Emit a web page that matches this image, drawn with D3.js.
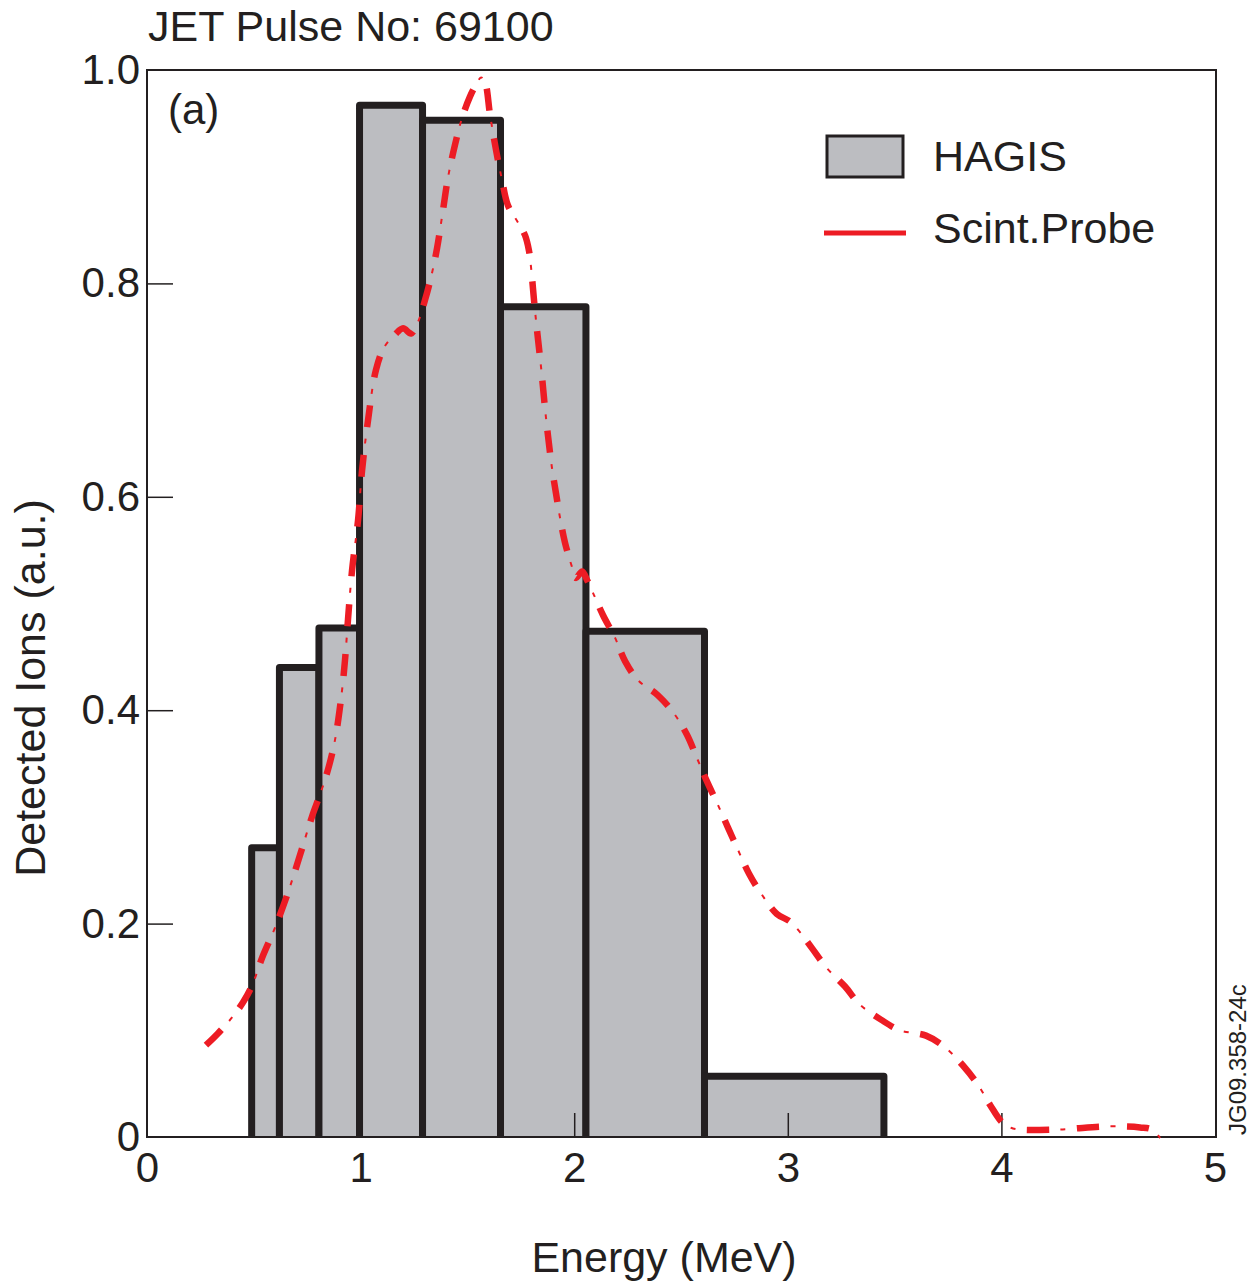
<!DOCTYPE html>
<html><head><meta charset="utf-8">
<script src="https://cdn.jsdelivr.net/npm/d3@7"></script>
<style>
html,body{margin:0;padding:0;background:#fff;}
text{font-family:"Liberation Sans",Arial,Helvetica,sans-serif;fill:#231f20;}
</style></head>
<body>
<script>
// ---- data ----
const binEdges = [0.49, 0.62, 0.805, 0.995, 1.29, 1.655, 2.055, 2.61, 3.45];
const hagisValues = [0.271, 0.440, 0.477, 0.967, 0.953, 0.778, 0.474, 0.057];
const probeEnergy = [0.276,0.332,0.398,0.449,0.492,0.539,0.599,0.660,0.716,0.772,0.810,0.847,0.880,0.908,0.927,0.941,0.960,0.988,1.007,1.035,1.072,1.110,1.161,1.199,1.236,1.269,1.301,1.330,1.358,1.386,1.409,1.442,1.475,1.512,1.540,1.564,1.582,1.606,1.634,1.662,1.690,1.737,1.770,1.788,1.798,1.812,1.826,1.845,1.868,1.896,1.915,1.934,1.957,1.990,2.008,2.037,2.060,2.088,2.135,2.191,2.238,2.299,2.392,2.467,2.528,2.575,2.622,2.669,2.720,2.767,2.818,2.879,2.949,3.010,3.057,3.113,3.184,3.268,3.338,3.436,3.525,3.647,3.736,3.820,3.890,3.947,4.007,4.054,4.260,4.494,4.649,4.705,4.743];
const probeCounts = [0.086,0.097,0.112,0.126,0.142,0.168,0.196,0.229,0.264,0.300,0.321,0.344,0.372,0.410,0.447,0.485,0.531,0.578,0.625,0.672,0.719,0.740,0.752,0.758,0.753,0.764,0.784,0.806,0.833,0.869,0.899,0.930,0.955,0.975,0.986,0.993,0.989,0.958,0.925,0.897,0.873,0.857,0.845,0.831,0.815,0.784,0.756,0.721,0.674,0.627,0.603,0.580,0.557,0.534,0.524,0.530,0.522,0.510,0.489,0.468,0.446,0.428,0.414,0.397,0.377,0.355,0.333,0.313,0.290,0.269,0.247,0.227,0.209,0.202,0.192,0.177,0.158,0.141,0.124,0.110,0.100,0.095,0.084,0.067,0.049,0.030,0.013,0.008,0.007,0.010,0.009,0.007,-0.001];
const xTicks = [0, 1, 2, 3, 4, 5];
const yTicks = [0, 0.2, 0.4, 0.6, 0.8, 1.0];
const seriesNames = ["HAGIS", "Scint.Probe"];
const title = "JET Pulse No: 69100";
const xLabel = "Energy (MeV)";
const yLabel = "Detected Ions (a.u.)";

// ---- layout ----
const W = 1254, H = 1282;
const L = 147, R = 1215, T = 70, B = 1137;
const ink = "#231f20", red = "#ed1c24", gray = "#bcbdc1";
const FS = 43;

const svg = d3.select("body").append("svg").attr("width", W).attr("height", H);
const x = d3.scaleLinear().domain([0, 5]).range([L, R]);
const y = d3.scaleLinear().domain([0, 1]).range([B, T]);

// bars (open at bottom)
const bars = hagisValues.map((v, i) => ({x0: binEdges[i], x1: binEdges[i + 1], v}));
svg.append("g").selectAll("path").data(bars).join("path")
  .attr("d", d => `M${x(d.x0)},${y(0)}L${x(d.x0)},${y(d.v)}L${x(d.x1)},${y(d.v)}L${x(d.x1)},${y(0)}`)
  .attr("fill", gray).attr("stroke", ink).attr("stroke-width", 7)
  .attr("stroke-linejoin", "round");

// axes (inward ticks)
const yAxis = d3.axisLeft(y).tickValues(yTicks).tickSizeInner(-26).tickSizeOuter(0).tickPadding(7)
  .tickFormat(d => d === 0 ? "0" : d3.format(".1f")(d));
const gy = svg.append("g").attr("transform", `translate(${L},0)`).call(yAxis);
const xAxis = d3.axisBottom(x).tickValues(xTicks).tickSizeInner(-24).tickSizeOuter(0).tickPadding(15)
  .tickFormat(d3.format("d"));
const gx = svg.append("g").attr("transform", `translate(0,${B})`).call(xAxis);
[gx, gy].forEach(g => {
  g.select(".domain").remove();
  g.selectAll(".tick line").attr("stroke", ink).attr("stroke-width", 1.5);
  g.selectAll(".tick text").attr("font-size", 42).attr("fill", ink)
    .style("font-family", '"Liberation Sans", Arial, sans-serif');
});
gy.selectAll(".tick").filter(d => d === 0 || d === 1).select("line").remove();
gx.selectAll(".tick").filter(d => d === 0 || d === 5 || d === 1).select("line").remove();

// frame
svg.append("rect").attr("x", L).attr("y", T).attr("width", R - L + 1).attr("height", B - T)
  .attr("fill", "none").attr("stroke", ink).attr("stroke-width", 2);

// probe curve: thick dashes + thin dashes (dash-dot)
const line = d3.line().x((d, i) => x(probeEnergy[i])).y((d, i) => y(probeCounts[i]))
  .curve(d3.curveCatmullRom.alpha(0.5));
const pd = line(probeCounts);
svg.append("path").attr("d", pd).attr("fill", "none").attr("stroke", red)
  .attr("stroke-width", 6.5).attr("stroke-dasharray", "22 28");
svg.append("path").attr("d", pd).attr("fill", "none").attr("stroke", red)
  .attr("stroke-width", 2).attr("stroke-dasharray", "0 33.5 5 11.5");

// legend
svg.append("rect").attr("x", 827).attr("y", 136).attr("width", 76).attr("height", 41)
  .attr("fill", gray).attr("stroke", ink).attr("stroke-width", 3);
svg.append("text").attr("x", 933).attr("y", 171).attr("font-size", FS).text(seriesNames[0]);
svg.append("line").attr("x1", 824).attr("x2", 906).attr("y1", 233).attr("y2", 233)
  .attr("stroke", red).attr("stroke-width", 5);
svg.append("text").attr("x", 933).attr("y", 243).attr("font-size", FS).text(seriesNames[1]);

// texts
svg.append("text").attr("x", 148).attr("y", 41).attr("font-size", FS).text(title);
svg.append("text").attr("x", 168).attr("y", 124).attr("font-size", 42).text("(a)");
svg.append("text").attr("x", 664).attr("y", 1272).attr("font-size", FS)
  .attr("text-anchor", "middle").text(xLabel);
svg.append("text").attr("transform", `translate(45,688) rotate(-90)`)
  .attr("font-size", FS).attr("text-anchor", "middle").text(yLabel);
svg.append("text").attr("transform", `translate(1246,1135) rotate(-90)`)
  .attr("font-size", 24).attr("text-anchor", "start").text("JG09.358-24c");
</script>
</body></html>
